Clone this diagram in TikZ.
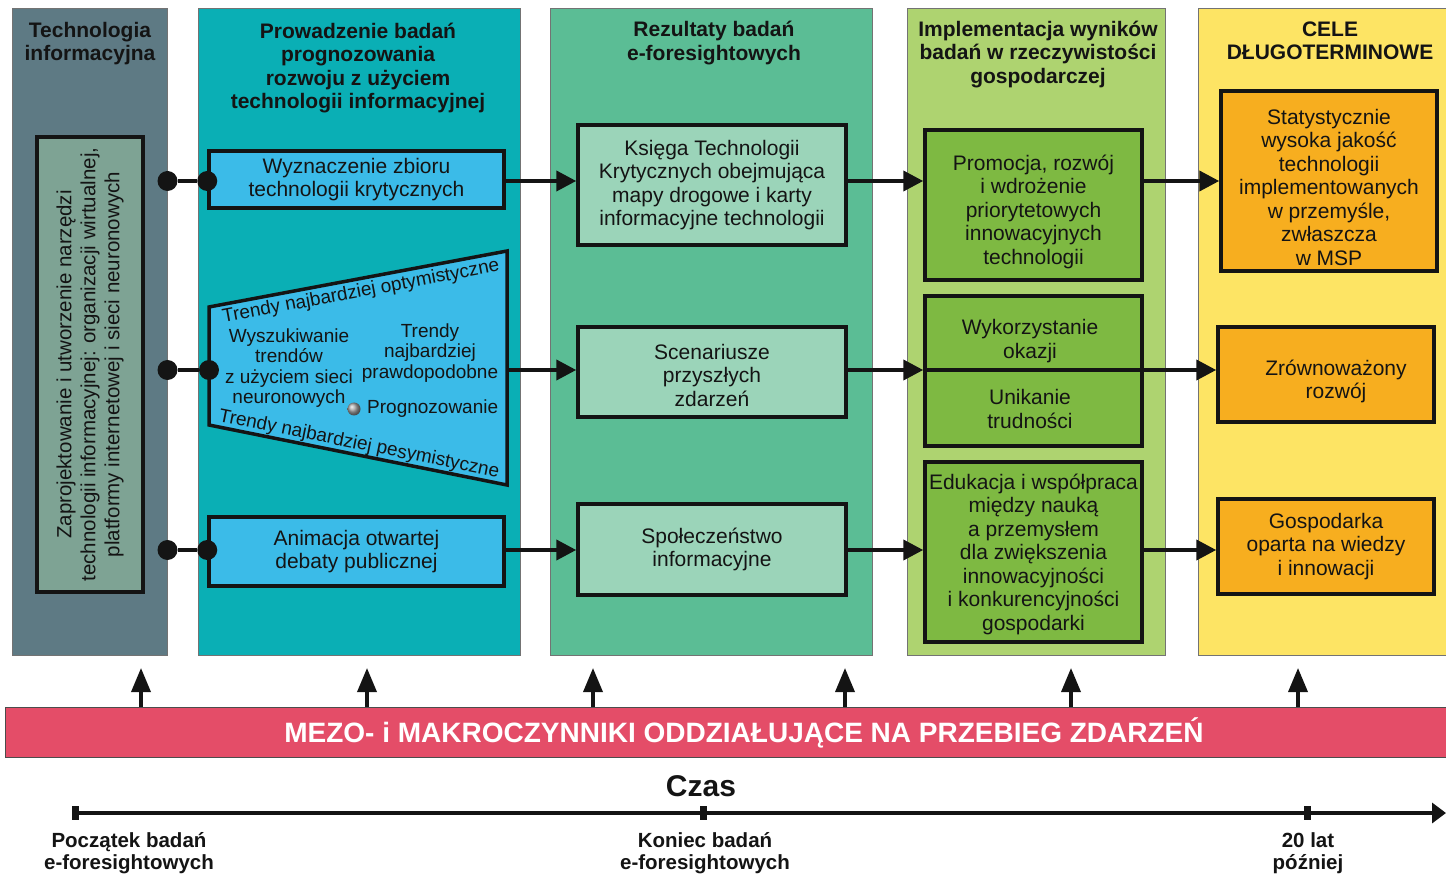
\documentclass[tikz,border=0pt]{standalone}
\usepackage{fontspec}
\setmainfont{Liberation Sans}
\usetikzlibrary{arrows.meta}

\definecolor{ink}{RGB}{20,20,20}
\definecolor{colA}{RGB}{94,122,132}
\definecolor{boxA}{RGB}{126,163,148}
\definecolor{colB}{RGB}{10,175,181}
\definecolor{boxB}{RGB}{59,187,232}
\definecolor{colC}{RGB}{91,189,149}
\definecolor{boxC}{RGB}{155,212,185}
\definecolor{colD}{RGB}{174,211,112}
\definecolor{boxD}{RGB}{126,185,66}
\definecolor{colE}{RGB}{253,228,100}
\definecolor{boxE}{RGB}{247,174,31}
\definecolor{barpink}{RGB}{228,77,104}

% invisible strut that pushes a multi-line label down inside its box
\newcommand{\toppad}[1]{\rule{0pt}{#1}}

\begin{document}
\begin{tikzpicture}[x=1pt,y=-1pt,
  lane/.style={draw=black!55, line width=1pt, inner sep=0pt},
  box/.style={draw=ink, line width=3.5pt, inner sep=0pt, align=center, text=ink,
              font=\fontsize{21}{23.5}\selectfont},
  head/.style={align=center, inner sep=0pt, text=ink,
               font=\bfseries\fontsize{21}{23.5}\selectfont},
  txt/.style={align=center, inner sep=0pt, text=ink,
              font=\fontsize{21}{23.5}\selectfont},
  small/.style={align=center, inner sep=0pt, text=ink,
                font=\fontsize{19}{20.5}\selectfont},
  dot/.style={circle, fill=ink, minimum size=20pt, inner sep=0pt},
  link/.style={draw=ink, line width=4pt, -{Triangle[length=20pt,width=20pt]}},
  plain/.style={draw=ink, line width=4pt},
  uparrow/.style={draw=ink, line width=3.5pt, -{Triangle[length=24pt,width=19pt]}},
  tick/.style={fill=ink, minimum width=7pt, minimum height=14pt, inner sep=0pt},
  timelabel/.style={align=center, inner sep=0pt, text=ink,
                    font=\bfseries\fontsize{20.5}{22}\selectfont}
]
\useasboundingbox (0,0) rectangle (1446,874);

% ---- background lanes ----
\node[lane, fill=colA, minimum width=155pt, minimum height=646pt] (laneA) at (89.5,332) {};
\node[lane, fill=colB, minimum width=322pt, minimum height=646pt] (laneB) at (359,332) {};
\node[lane, fill=colC, minimum width=322pt, minimum height=646pt] (laneC) at (711,332) {};
\node[lane, fill=colD, minimum width=258pt, minimum height=646pt] (laneD) at (1036,332) {};
\node[lane, fill=colE, minimum width=252pt, minimum height=646pt] (laneE) at (1324,332) {};

% ---- lane headings ----
\node[head] (hA) at (90,43.5) {Technologia\\informacyjna};
\node[head] (hB) at (358,68) {Prowadzenie badań\\prognozowania\\rozwoju z użyciem\\technologii informacyjnej};
\node[head] (hC) at (714,43) {Rezultaty badań\\e-foresightowych};
\node[head] (hD) at (1038,54.5) {Implementacja wyników\\badań w rzeczywistości\\gospodarczej};
\node[head] (hE) at (1330,41) {CELE\\DŁUGOTERMINOWE};

% ---- row levels ----
\coordinate (r1) at (0,181);
\coordinate (r2) at (0,370);
\coordinate (r3) at (0,550);

% ---- information technology tools ----
\node[draw=ink, line width=3.5pt, fill=boxA, rotate=90, inner sep=0pt, align=center,
      text=ink, font=\fontsize{20.5}{24}\selectfont,
      minimum width=455pt, minimum height=106pt] (tools) at (90,364.5)
  {Zaprojektowanie i utworzenie narzędzi\\technologii informacyjnej: organizacji wirtualnej,\\platformy internetowej i sieci neuronowych};

% ---- forecasting research ----
\node[box, fill=boxB, minimum width=295pt, minimum height=57pt] (wyz) at (356.5,179.5)
  {Wyznaczenie zbioru\\technologii krytycznych};
\node[box, fill=boxB, minimum width=295pt, minimum height=69pt] (anim) at (356.5,551.5)
  {Animacja otwartej\\debaty publicznej};

\coordinate (tz1) at (209,307);
\coordinate (tz2) at (507,251);
\coordinate (tz3) at (507,485);
\coordinate (tz4) at (209,425);
\draw[draw=ink, line width=3.5pt, fill=boxB, line join=miter] (tz1) -- (tz2) -- (tz3) -- (tz4) -- cycle;
\node[small, rotate=10.6] (opt) at (361,292) {Trendy najbardziej optymistyczne};
\node[small, rotate=-11.4] (pes) at (359,444.5) {Trendy najbardziej pesymistyczne};
\node[small] (wysz) at (289,368) {Wyszukiwanie\\trendów\\z użyciem sieci\\neuronowych};
\node[small] (praw) at (430,353) {Trendy\\najbardziej\\prawdopodobne};
\shade[ball color=black!35] (354,409) circle (6.5pt);
\node[small, anchor=west] (prog) at (367,409) {Prognozowanie};

% ---- research results ----
\node[box, fill=boxC, minimum width=268pt, minimum height=120pt] (ksiega) at (712,185)
  {Księga Technologii\\Krytycznych obejmująca\\mapy drogowe i karty\\informacyjne technologii};
\node[box, fill=boxC, minimum width=268pt, minimum height=90pt] (scen) at (712,372)
  {\toppad{22pt}Scenariusze\\przyszłych\\zdarzeń};
\node[box, fill=boxC, minimum width=268pt, minimum height=91pt] (spol) at (712,549.5)
  {Społeczeństwo\\informacyjne};

% ---- implementation ----
\node[box, fill=boxD, minimum width=217pt, minimum height=150pt] (prom) at (1033.5,205)
  {\toppad{29pt}Promocja, rozwój\\i wdrożenie\\priorytetowych\\innowacyjnych\\technologii};
\node[box, fill=boxD, minimum width=217pt, minimum height=150pt] (wyk) at (1033.5,371) {};
\node[txt] (okazji) at (1030,341) {Wykorzystanie\\okazji};
\node[txt] (trud) at (1030,409) {Unikanie\\trudności};
\node[box, fill=boxD, minimum width=217pt, minimum height=180pt] (edu) at (1033.5,552)
  {\toppad{20pt}Edukacja i współpraca\\między nauką\\a przemysłem\\dla zwiększenia\\innowacyjności\\i konkurencyjności\\gospodarki};

% ---- long-term goals ----
\node[box, fill=boxE, minimum width=216pt, minimum height=180pt] (stat) at (1329,181)
  {\toppad{28pt}Statystycznie\\wysoka jakość\\technologii\\implementowanych\\w przemyśle,\\zwłaszcza\\w MSP};
\node[box, fill=boxE, minimum width=216pt, minimum height=95pt] (zrow) at (1326,374.5)
  {\toppad{29pt}\hspace*{20pt}Zrównoważony\\\hspace*{20pt}rozwój};
\node[box, fill=boxE, minimum width=216pt, minimum height=95pt] (gosp) at (1326,546.5)
  {Gospodarka\\oparta na wiedzy\\i innowacji};

% ---- dotted links from the tools lane ----
\node[dot] (d1a) at (laneA.east |- r1) {};
\node[dot] (d1b) at (wyz.west |- r1) {};
\node[dot] (d2a) at (laneA.east |- r2) {};
\node[dot] (d2b) at (tz1 |- r2) {};
\node[dot] (d3a) at (laneA.east |- r3) {};
\node[dot] (d3b) at (anim.west |- r3) {};
\draw[plain] (d1a) -- (d1b);
\draw[plain] (d2a) -- (d2b);
\draw[plain] (d3a) -- (d3b);

% ---- flow arrows ----
\draw[link] (wyz.east |- r1) -- (ksiega.west |- r1);
\draw[link] (tz2 |- r2) -- (scen.west |- r2);
\draw[link] (anim.east |- r3) -- (spol.west |- r3);

\draw[link] (ksiega.east |- r1) -- (prom.west |- r1);
\draw[link] (scen.east |- r2) -- (wyk.west |- r2);
\draw[link] (spol.east |- r3) -- (edu.west |- r3);

\draw[link] (prom.east |- r1) -- (stat.west |- r1);
\draw[link] (wyk.west |- r2) -- (zrow.west |- r2);
\draw[link] (edu.east |- r3) -- (gosp.west |- r3);

% ---- external factors ----
\node[draw=black!70, line width=1pt, fill=barpink, minimum width=1444pt, minimum height=50pt,
      inner sep=0pt] (bar) at (727,732) {};
\node[inner sep=0pt, text=white, font=\bfseries\fontsize{28}{30}\selectfont] (bartxt) at (744,733)
  {MEZO- i MAKROCZYNNIKI ODDZIAŁUJĄCE NA PRZEBIEG ZDARZEŃ};

\foreach \i/\x in {1/141, 2/367, 3/593, 4/845, 5/1071, 6/1298} {
  \coordinate (up\i) at (\x,668);
  \draw[uparrow] (bar.north -| up\i) -- (up\i);
}

% ---- time axis ----
\node[inner sep=0pt, text=ink, font=\bfseries\fontsize{30}{32}\selectfont] (czas) at (701,786) {Czas};
\coordinate (tstart) at (75,813);
\coordinate (tend) at (1446,813);
\draw[draw=ink, line width=4pt, -{Triangle[length=14pt,width=20pt]}] (tstart) -- (tend);
\node[tick] (k1) at (75,813) {};
\node[tick] (k2) at (703,813) {};
\node[tick] (k3) at (1307,813) {};
\node[timelabel] (l1) at (129,853) {Początek badań\\e-foresightowych};
\node[timelabel] (l2) at (705,853) {Koniec badań\\e-foresightowych};
\node[timelabel] (l3) at (1308,853) {20 lat\\później};
\end{tikzpicture}
\end{document}
